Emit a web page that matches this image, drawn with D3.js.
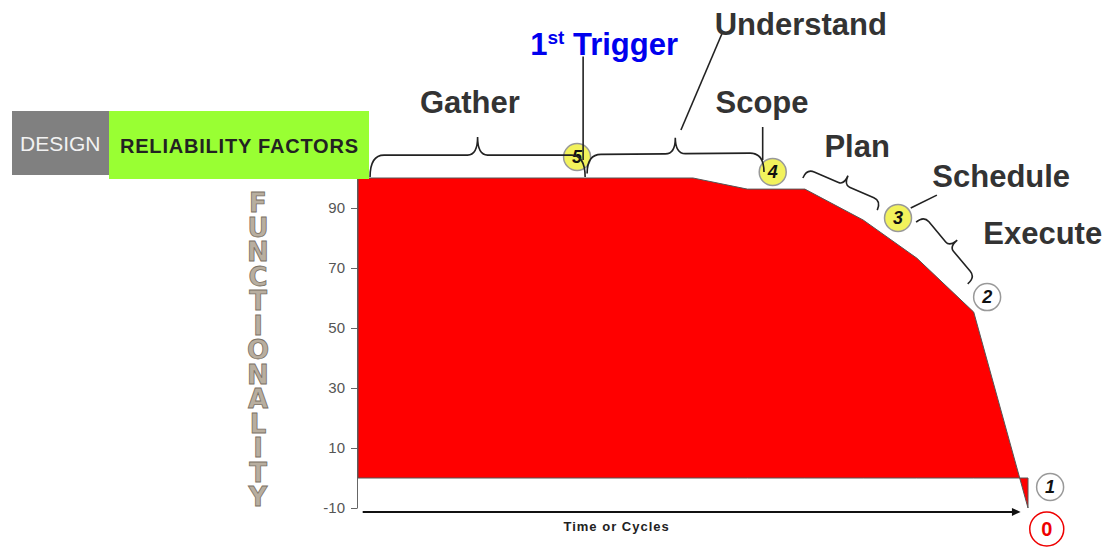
<!DOCTYPE html>
<html>
<head>
<meta charset="utf-8">
<script src="https://cdn.jsdelivr.net/npm/d3@7"></script>
<style>
  body { margin: 0; background: #fff; }
  svg { display: block; font-family: "Liberation Sans", Arial, sans-serif; }
</style>
</head>
<body>
<div id="chart"></div>
<script>
// functionality profile over time
const times = [0, 50, 58.1, 66.7, 75.4, 83.4, 91.9, 100];
const functionality = [100, 100, 96.3, 96.3, 86, 73.3, 55.3, -10];
const yTicks = [-10, 10, 30, 50, 70, 90];
const yTitle = "FUNCTIONALITY";
const xTitle = "Time or Cycles";

// phase labels (anchor in data units)
const phases = ["Gather", "Understand", "Scope", "Plan", "Schedule", "Execute"];
const phaseT = [16.7, 66.1, 60.3, 74.5, 96, 102.2];
const phaseV = [121.7, 147.7, 121.7, 107, 97, 78];

// milestone markers
const milestones = ["5", "4", "3", "2", "1", "0"];
const milestoneT = [32.7, 61.9, 80.6, 93.9, 103.3, 102.8];
const milestoneV = [107, 102, 86.7, 60.3, -3, -17];
const milestoneKind = ["yellow", "yellow", "yellow", "white", "white", "red"];

// braces: [t1, v1, t2, v2]
const braces = [
  [1.8, 100.3, 33.9, 100.3],
  [34.2, 101.5, 60.6, 102],
  [66.4, 100, 77.5, 89.3],
  [83.3, 85.3, 91, 64.7]
];
// leader lines: [t1, v1, t2, v2]
const leaders = [
  [33.6, 140.5, 33.6, 106],
  [54.3, 148, 48.2, 116],
  [60.4, 117, 60.4, 106],
  [86.4, 94.3, 82.5, 90]
];

const width = 1107, height = 549;
const x = d3.scaleLinear().domain([0, 100]).range([358, 1028]);
const y = d3.scaleLinear().domain([-10, 100]).range([508, 178]);

const svg = d3.select("#chart").append("svg")
    .attr("width", width)
    .attr("height", height);

const data = times.map((t, i) => ({t, v: functionality[i]}));

// y axis
const yAxis = svg.append("g")
    .attr("transform", `translate(${x(0) - 1},0)`)
    .call(d3.axisLeft(y).tickValues(yTicks).tickFormat(d => String(d))
      .tickSize(6).tickSizeOuter(0).tickPadding(6));
yAxis.selectAll("text").attr("font-size", 15).attr("fill", "#555")
    .attr("font-family", "Liberation Sans, Arial, sans-serif");
yAxis.selectAll("line, path").attr("stroke", "#666");

// area
const area = d3.area()
    .x(d => x(d.t))
    .y0(y(0))
    .y1(d => y(d.v));

svg.append("path")
    .datum(data)
    .attr("d", area)
    .attr("fill", "#ff0000")
    .attr("stroke", "#555")
    .attr("stroke-width", 1);

// time arrow
const ay = y(-11.3);
svg.append("line")
    .attr("x1", x(0.7)).attr("x2", x(98))
    .attr("y1", ay).attr("y2", ay)
    .attr("stroke", "#111").attr("stroke-width", 2);
svg.append("path")
    .attr("d", `M${x(98.9)},${ay} L${x(97.6)},${ay - 4} L${x(97.6)},${ay + 4} Z`)
    .attr("fill", "#111");
svg.append("text")
    .attr("x", x(38.6)).attr("y", 531)
    .attr("text-anchor", "middle")
    .attr("font-size", 13).attr("font-weight", "bold")
    .attr("letter-spacing", 1)
    .attr("fill", "#222")
    .text(xTitle);

// vertical axis title, stacked upright letters
svg.append("text")
    .attr("x", 258)
    .attr("y", 188)
    .style("writing-mode", "vertical-rl")
    .style("text-orientation", "upright")
    .attr("font-family", "DejaVu Sans, sans-serif")
    .attr("font-weight", "bold")
    .attr("font-size", 26)
    .attr("letter-spacing", -5.5)
    .attr("fill", "#b8ae9f")
    .attr("stroke", "#7a7064")
    .attr("stroke-width", 0.8)
    .text(yTitle);

// header boxes
svg.append("rect").attr("x", 12).attr("y", 111).attr("width", 98).attr("height", 64).attr("fill", "#808080");
svg.append("rect").attr("x", 109).attr("y", 111).attr("width", 260).attr("height", 68).attr("fill", "#99ff33");
svg.append("text").attr("x", 20).attr("y", 151).attr("font-size", 21).attr("fill", "#f2f2f2").text("DESIGN");
svg.append("text").attr("x", 120).attr("y", 153).attr("font-size", 20).attr("font-weight", "bold")
    .attr("fill", "#222").attr("textLength", 238).text("RELIABILITY FACTORS");

// milestone circles
const ms = svg.append("g")
  .selectAll("g")
  .data(milestones)
  .join("g")
    .attr("transform", (d, i) => `translate(${x(milestoneT[i])},${y(milestoneV[i])})`);
ms.append("circle")
    .attr("r", (d, i) => milestoneKind[i] === "red" ? 17 : 13.5)
    .attr("fill", (d, i) => milestoneKind[i] === "yellow" ? "#f2f25c" : "#fff")
    .attr("stroke", (d, i) => milestoneKind[i] === "red" ? "#ee0000" : "#999")
    .attr("stroke-width", 1.5);
ms.append("text")
    .attr("text-anchor", "middle")
    .attr("dy", (d, i) => milestoneKind[i] === "red" ? "0.36em" : "0.35em")
    .attr("font-size", (d, i) => milestoneKind[i] === "red" ? 20 : 18)
    .attr("font-weight", "bold")
    .attr("font-style", (d, i) => milestoneKind[i] === "red" ? "normal" : "italic")
    .attr("fill", (d, i) => milestoneKind[i] === "red" ? "#ee0000" : "#111")
    .text(d => d);

// curly brace in local coords, tip pointing "up"
function bracePath(len, h1, w, r, r2) {
  const m = len / 2;
  return `M0,0 Q0,${-h1} ${r},${-h1} L${m - r2},${-h1} Q${m},${-h1} ${m},${-w}` +
         ` Q${m},${-h1} ${m + r2},${-h1} L${len - r},${-h1} Q${len},${-h1} ${len},0`;
}
const braceSize = [[22, 40, 14, 10], [19, 35, 14, 10], [10, 20, 8, 6], [10, 20, 8, 6]];
svg.append("g")
    .attr("fill", "none").attr("stroke", "#222").attr("stroke-width", 1.6)
  .selectAll("path")
  .data(braces)
  .join("path")
    .attr("transform", d => {
      const x1 = x(d[0]), y1 = y(d[1]), x2 = x(d[2]), y2 = y(d[3]);
      const a = Math.atan2(y2 - y1, x2 - x1) * 180 / Math.PI;
      return `translate(${x1},${y1}) rotate(${a})`;
    })
    .attr("d", (d, i) => {
      const len = Math.hypot(x(d[2]) - x(d[0]), y(d[3]) - y(d[1]));
      const [h1, w, r, r2] = braceSize[i];
      return bracePath(len, h1, w, r, r2);
    });

// leader lines
svg.append("g")
    .attr("stroke", "#222").attr("stroke-width", 1.6)
  .selectAll("line")
  .data(leaders)
  .join("line")
    .attr("x1", d => x(d[0])).attr("y1", d => y(d[1]))
    .attr("x2", d => x(d[2])).attr("y2", d => y(d[3]));

// phase labels
svg.append("g")
  .selectAll("text")
  .data(phases)
  .join("text")
    .attr("x", (d, i) => x(phaseT[i]))
    .attr("y", (d, i) => y(phaseV[i]))
    .attr("text-anchor", "middle")
    .attr("font-size", 31)
    .attr("font-weight", "bold")
    .attr("fill", "#333")
    .text(d => d);

// 1st Trigger
const trig = svg.append("text")
    .attr("x", x(25.7)).attr("y", y(141))
    .attr("font-size", 31).attr("font-weight", "bold")
    .attr("fill", "#0000ee");
trig.append("tspan").text("1");
trig.append("tspan").attr("font-size", 19).attr("dy", -11).text("st");
trig.append("tspan").attr("dy", 11).text(" Trigger");
</script>
</body>
</html>
